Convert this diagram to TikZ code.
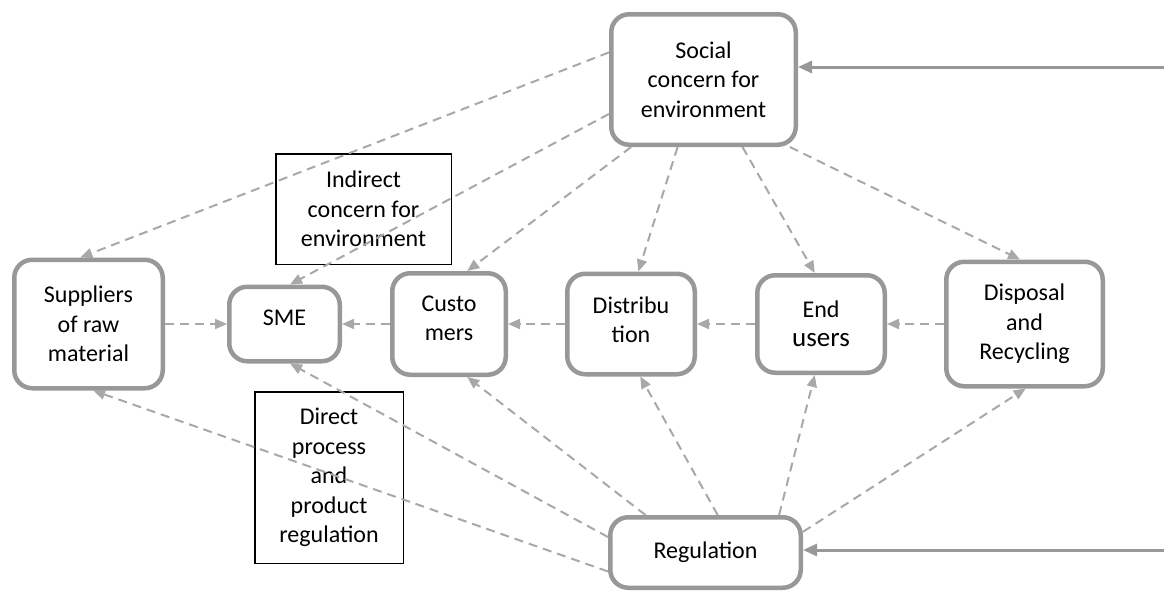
\documentclass[tikz,border=0pt]{standalone}
\usepackage{fontspec}
\setmainfont{Carlito}
\usetikzlibrary{arrows.meta}

\definecolor{framegray}{RGB}{152,152,152}
\definecolor{dashgray}{RGB}{168,168,168}

\begin{document}
\begin{tikzpicture}[x=1pt,y=-1pt]
\tikzstyle{every node}=[font=\fontsize{24}{29.5}\selectfont,align=center,inner sep=0pt];
\tikzstyle{actor}=[draw=framegray,line width=4.5pt,rounded corners=18pt,fill=white];
\tikzstyle{note}=[draw=black,line width=1.5pt];
\tikzstyle{influence}=[draw=dashgray,line width=2pt,dash pattern=on 9pt off 6pt,-{Triangle[length=12pt,width=10pt]}];
\tikzstyle{pressure}=[draw=framegray,line width=3pt,-{Triangle[length=14pt,width=12pt]}];

\useasboundingbox (0,0) rectangle (1164,592);

% sizes are the outer frame less the frame width
  \node[actor,minimum width=184.5pt,minimum height=130.5pt] (soc) at (703.5,79.5) {Social\\concern for\\environment};

  \node[actor,minimum width=148.5pt,minimum height=128.5pt] (sup) at (88.5,324) {Suppliers\\of raw\\material};
  \node[actor,minimum width=110.5pt,minimum height=74.5pt,text depth=13pt] (sme) at (284.5,324) {SME};
  \node[actor,minimum width=113.5pt,minimum height=101.5pt,text depth=12pt] (cus) at (449,324) {Custo\\mers};
  \node[actor,minimum width=127.5pt,minimum height=100.5pt,text depth=9pt] (dist) at (631,324) {Distribu\\tion};
  \node[actor,minimum width=127.5pt,minimum height=97.5pt] (usr) at (821,324) {End\\{\fontsize{27}{30}\selectfont users}};
  \node[actor,minimum width=156.5pt,minimum height=124.5pt] (recy) at (1024.5,324) {Disposal\\and\\Recycling};

  \node[actor,minimum width=190.5pt,minimum height=70.5pt] (reg) at (705.5,552.5) {Regulation};

  \node[note,minimum width=175.5pt,minimum height=110.5pt] (indirect) at (363.5,209) {Indirect\\concern for\\environment};
  \node[note,minimum width=148.5pt,minimum height=171.5pt] (direct) at (329,477.5) {Direct\\process\\and\\product\\regulation};

\foreach \from/\to in {soc.164/sup.97, soc.200/sme.82, soc.223/cus.71, soc.249/dist.82,
    soc.300/usr.97, soc.322/recy.94,
    sup.east/sme.west, cus.west/sme.east, dist.west/cus.east, usr.west/dist.east, recy.west/usr.east,
    reg.191/sup.274, reg.171/sme.278, reg.148/cus.289, reg.72/dist.280, reg.27/usr.263, reg.12/recy.271}
\draw[influence] (\from) -- (\to);

% outside pressure coming in from the right
\coordinate (socin) at (1164,67);
\coordinate (regin) at (1164,550);
\draw[pressure] (socin) -- (socin -| soc.east);
\draw[pressure] (regin) -- (regin -| reg.east);

\end{tikzpicture}
\end{document}
